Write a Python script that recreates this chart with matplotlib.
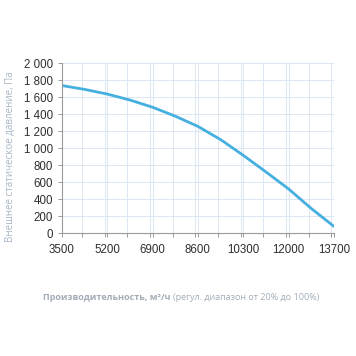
import matplotlib
matplotlib.use('Agg')
import matplotlib.pyplot as plt
from matplotlib.ticker import MultipleLocator, FuncFormatter

plt.rcParams['font.family'] = ['Liberation Sans', 'DejaVu Sans']

# Airflow, m3/h and external static pressure, Pa
airflow = [3500, 4350, 5200, 6050, 6900, 7750, 8600, 9450, 10300, 11150, 12000, 12850, 13700]
pressure = [1735, 1690, 1635, 1565, 1480, 1375, 1255, 1100, 915, 720, 520, 290, 80]
x_ticks = [3500, 5200, 6900, 8600, 10300, 12000, 13700]

fig = plt.figure(figsize=(3.56, 3.56), dpi=100)
ax = fig.add_axes([0.174, 0.345, 0.764, 0.478])

ax.plot(airflow, pressure, color='#45b0e0', linewidth=2, solid_capstyle='round',
        solid_joinstyle='round')

ax.set_xlim(3500, 13700)
ax.set_ylim(0, 2000)
ax.set_xticks(x_ticks)
ax.xaxis.set_minor_locator(MultipleLocator(850))
ax.yaxis.set_major_locator(MultipleLocator(200))
ax.yaxis.set_major_formatter(FuncFormatter(lambda v, p: f'{int(v):,}'.replace(',', ' ')))

ax.grid(True, which='both', color='#dce7f3', linewidth=0.7)
ax.set_axisbelow(True)
for s in ['top', 'right']:
    ax.spines[s].set_visible(False)
for s in ['left', 'bottom']:
    ax.spines[s].set_color('#9a9a9a')
    ax.spines[s].set_linewidth(0.8)

ax.tick_params(axis='both', which='both', colors='#9a9a9a', labelcolor='#2e2e2e',
               labelsize=8.3, length=3, width=0.7)
ax.tick_params(axis='x', which='minor', length=3)
ax.tick_params(axis='x', pad=5)

fig.text(0.03, 0.56, 'Внешнее статическое давление, Па', rotation=90,
         ha='center', va='center', fontsize=7, color='#a8b6c6',
         family=['Open Sans', 'DejaVu Sans'])

t1 = fig.text(0.12, 0.165, 'Производительность, м³/ч', fontsize=6.5,
              fontweight='bold', color='#a3adb8', ha='left', va='center',
              family=['Open Sans', 'DejaVu Sans'])
fig.canvas.draw()
bb = t1.get_window_extent()
fig.text((bb.x1 + 3) / fig.bbox.width, 0.165, '(регул. диапазон от 20% до 100%)',
         fontsize=6.5, color='#a3adb8', ha='left', va='center',
         family=['Open Sans', 'DejaVu Sans'])

fig.savefig('out.png', dpi=100)
